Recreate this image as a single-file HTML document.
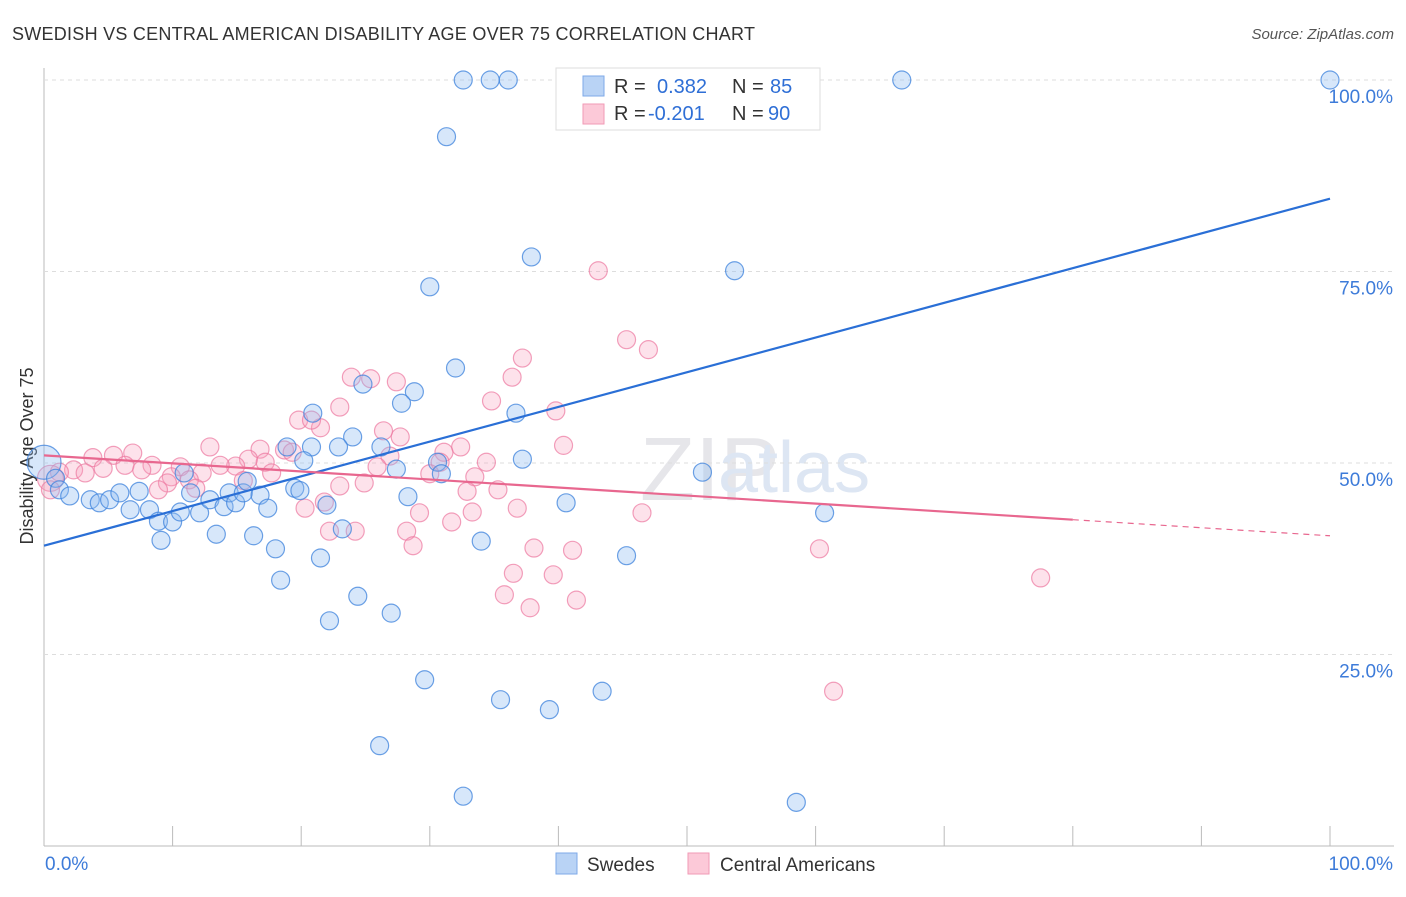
<!DOCTYPE html>
<html><head><meta charset="utf-8"><style>
body{margin:0;background:#fff;font-family:"Liberation Sans",sans-serif}
svg text{font-family:"Liberation Sans",sans-serif}
</style></head><body>
<svg id="c" width="1406" height="892" xmlns="http://www.w3.org/2000/svg">
<text x="12" y="40" font-size="18" fill="#333" textLength="743">SWEDISH VS CENTRAL AMERICAN DISABILITY AGE OVER 75 CORRELATION CHART</text>
<text x="1394" y="39" font-size="15" fill="#555" font-style="italic" text-anchor="end">Source: ZipAtlas.com</text>
<text transform="translate(33,456) rotate(-90)" font-size="18" fill="#333" text-anchor="middle">Disability Age Over 75</text>
<text x="640" y="500" font-size="90" fill="#e6e6ea" font-family="Liberation Serif">ZIP</text>
<text x="718" y="492" font-size="72" fill="#dde6f3">atlas</text>
<g id="grid"></g><g id="pts"></g><g id="lines"></g>
<g>
<rect x="556" y="68" width="264" height="62" fill="#fff" stroke="#ddd"/>
<rect x="583" y="76" width="21" height="20" fill="#b9d3f5" stroke="#7eaae8"/>
<rect x="583" y="104" width="21" height="20" fill="#fcc9d8" stroke="#f19ab6"/>
<text x="614" y="93" font-size="20" fill="#333">R = </text><text x="657" y="93" font-size="20" fill="#2f6fd6">0.382</text>
<text x="732" y="93" font-size="20" fill="#333">N = </text><text x="770" y="93" font-size="20" fill="#2f6fd6">85</text>
<text x="614" y="120" font-size="20" fill="#333">R = </text><text x="648" y="120" font-size="20" fill="#2f6fd6">-0.201</text>
<text x="732" y="120" font-size="20" fill="#333">N = </text><text x="768" y="120" font-size="20" fill="#2f6fd6">90</text>
</g>
<g>
<rect x="556" y="853" width="21" height="21" fill="#b9d3f5" stroke="#7eaae8"/>
<text x="587" y="871" font-size="19" fill="#333">Swedes</text>
<rect x="688" y="853" width="21" height="21" fill="#fcc9d8" stroke="#f19ab6"/>
<text x="720" y="871" font-size="19" fill="#333">Central Americans</text>
</g>
<text x="45" y="870" font-size="19" fill="#3d7bd9">0.0%</text>
<text x="1393" y="870" font-size="19" fill="#3d7bd9" text-anchor="end">100.0%</text>
</svg>
<script>
const yTicks=[100,75,50,25];
const yTickLabels=["100.0%","75.0%","50.0%","25.0%"];
const xTicks=[0,10,20,30,40,50,60,70,80,90,100];
const swedesX=[32.6,34.7,36.1,66.7,100,31.3,37.9,53.7,30.0,32.0,24.8,28.8,27.8,36.7,20.9,24.0,20.8,18.9,26.2,22.9,37.2,20.2,30.6,27.4,30.9,51.2,10.9,0,0.9,1.2,2.0,3.6,4.3,5.1,5.9,7.4,6.7,8.2,8.9,10.0,9.1,10.6,11.4,12.1,12.9,13.4,14.0,14.4,14.9,15.5,15.8,16.8,17.4,16.3,18.0,18.4,19.5,19.9,22.0,23.2,21.5,22.2,24.4,27.0,28.3,34.0,40.6,45.3,60.7,29.6,35.5,39.3,43.4,26.1,32.6,58.5];
const swedesY=[100,100,100,100,100,92.6,76.9,75.1,73.0,62.4,60.3,59.3,57.8,56.5,56.5,53.4,52.1,52.1,52.1,52.1,50.5,50.3,50.1,49.2,48.6,48.8,48.7,50.1,48.0,46.5,45.7,45.2,44.8,45.2,46.1,46.3,43.9,43.9,42.4,42.3,39.9,43.6,46.1,43.5,45.2,40.7,44.3,46.1,44.8,46.1,47.6,45.8,44.1,40.5,38.8,34.7,46.7,46.4,44.5,41.4,37.6,29.4,32.6,30.4,45.6,39.8,44.8,37.9,43.5,21.7,19.1,17.8,20.2,13.1,6.5,5.7];
const centralX=[43.1,45.3,47.0,37.2,36.4,23.9,25.4,27.4,34.8,39.8,23.0,19.8,21.5,20.8,27.7,26.4,32.4,31.1,40.4,12.9,16.8,18.7,19.3,6.9,5.4,3.8,15.9,17.2,26.9,34.4,30.8,25.9,14.9,8.4,10.6,6.3,4.6,2.3,1.2,0.5,9.9,13.7,12.3,17.7,7.6,3.2,30.0,33.5,15.5,11.3,9.6,11.8,8.9,23.0,24.9,32.9,35.3,21.8,20.3,36.8,29.2,33.3,31.7,46.5,22.2,24.2,28.2,28.7,38.1,41.1,60.3,36.5,39.6,77.5,35.8,41.4,37.8,61.4,0.5];
const centralY=[75.1,66.1,64.8,63.7,61.2,61.2,61.0,60.6,58.1,56.8,57.3,55.6,54.6,55.6,53.4,54.2,52.1,51.4,52.3,52.1,51.8,51.7,51.4,51.3,51.0,50.7,50.5,50.1,50.9,50.1,50.1,49.5,49.6,49.7,49.5,49.7,49.3,49.1,48.8,48.0,48.2,49.7,48.7,48.7,49.1,48.7,48.6,48.2,47.7,47.8,47.4,46.7,46.5,47.0,47.4,46.3,46.5,44.9,44.1,44.1,43.5,43.6,42.3,43.5,41.1,41.1,41.1,39.2,38.9,38.6,38.8,35.6,35.4,35.0,32.8,32.1,31.1,20.2,46.5];
const swedesTrend=[39.2,84.5];
const centralTrend=[51.0,40.5];
const X0=44,X1=1330,Y0=846,Y100=80;
const sx=v=>X0+(X1-X0)*v/100, sy=v=>Y0+(Y100-Y0)*v/100;
const NS="http://www.w3.org/2000/svg";
function mk(t,a,p){const e=document.createElementNS(NS,t);for(const k in a)e.setAttribute(k,a[k]);p.appendChild(e);return e;}
const grid=document.getElementById('grid');
let ax=mk('line',{x1:44,y1:68,x2:44,y2:846,stroke:'#bbb'},grid);


let bx=mk('line',{x1:44,y1:846,x2:1394,y2:846,stroke:'#bbb'},grid);


yTicks.forEach((v,i)=>{
 const g=mk('line',{x1:44,y1:sy(v),x2:1394,y2:sy(v),stroke:'#ddd','stroke-dasharray':'4,4'},grid);
 
 
 const t=mk('text',{x:1393,y:sy(v)+23,'font-size':19,fill:'#3d7bd9','text-anchor':'end'},grid);
 t.textContent=yTickLabels[i];
 
 
});
xTicks.forEach(v=>{
 const t=mk('line',{x1:sx(v),y1:826,x2:sx(v),y2:846,stroke:'#bbb'},grid);
 
 
});
const pts=document.getElementById('pts');
centralX.forEach((x,i)=>{
 const c=mk('circle',{cx:sx(x),cy:sy(centralY[i]),r:(i==39?13:9),fill:'rgba(248,160,190,0.3)',stroke:'rgba(236,120,160,0.7)','stroke-width':1.2},pts);
 
 
});
swedesX.forEach((x,i)=>{
 const c=mk('circle',{cx:sx(x),cy:sy(swedesY[i]),r:(i==27?17:9),fill:'rgba(140,185,240,0.35)',stroke:'rgba(60,130,220,0.75)','stroke-width':1.2},pts);
 
 
});
const L=document.getElementById('lines');
let b=mk('line',{x1:sx(0),y1:sy(swedesTrend[0]),x2:sx(100),y2:sy(swedesTrend[1]),stroke:'#2a6fd6','stroke-width':2.2},L);


const pAt=v=>centralTrend[0]+(centralTrend[1]-centralTrend[0])*v/100;
let p=mk('line',{x1:sx(0),y1:sy(pAt(0)),x2:sx(80),y2:sy(pAt(80)),stroke:'#e8678f','stroke-width':2.2},L);


let pd=mk('line',{x1:sx(80),y1:sy(pAt(80)),x2:sx(100),y2:sy(pAt(100)),stroke:'#e8678f','stroke-width':1.2,'stroke-dasharray':'6,5'},L);


</script>
</body></html>
